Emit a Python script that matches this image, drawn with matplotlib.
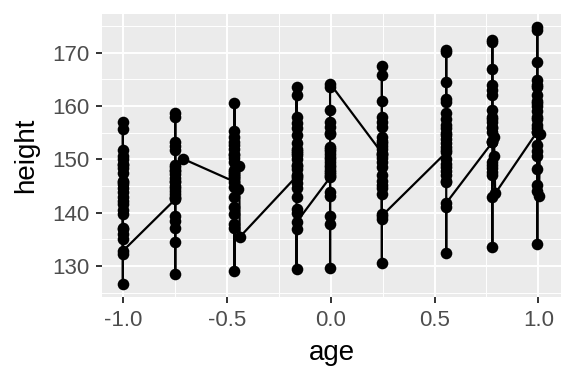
import numpy as np
import matplotlib
matplotlib.use("Agg")
import matplotlib.pyplot as plt
from matplotlib.ticker import FixedLocator

plt.rcParams["font.family"] = ["Liberation Sans", "DejaVu Sans"]

# heights per measurement occasion; ages mostly shared, a few subjects differ slightly
h1 = [140.5, 136.9, 150.0, 155.7, 145.8, 146.0, 142.2, 126.6, 151.7, 144.6, 157.0, 143.8, 135.1,
      149.2, 141.6, 147.5, 139.8, 148.3, 137.2, 143.0, 150.6, 136.0, 145.3, 148.9, 132.3, 132.8]
a1 = [-1.0] * 26

h2 = [142.5, 139.4, 148.0, 158.6, 146.5, 147.2, 144.0, 128.4, 153.2, 145.8, 157.9, 143.5, 134.4,
      148.6, 142.8, 151.7, 138.5, 147.8, 137.2, 145.0, 152.5, 146.0, 143.0, 144.6, 149.0, 150.1]
a2 = [-0.7479] * 25 + [-0.711]

h3 = [145.8, 147.7, 143.0, 152.0, 160.6, 150.3, 149.5, 146.5, 129.1, 155.4, 148.0, 154.2, 146.8,
      137.8, 151.0, 144.8, 153.3, 141.0, 150.8, 139.7, 147.2, 137.2, 152.6, 144.4, 148.8, 135.4]
a3 = [-0.463] * 23 + [-0.447, -0.44, -0.438]

h4 = [146.8, 147.1, 142.9, 154.5, 163.6, 151.2, 150.0, 148.2, 129.4, 157.9, 149.0, 162.0, 145.5,
      136.9, 153.0, 140.7, 155.8, 140.0, 152.0, 144.7, 156.8, 148.8, 150.8, 146.5, 151.6, 138.2]
a4 = [-0.1643] * 26

h5 = [146.6, 147.7, 143.2, 155.0, 159.2, 150.5, 151.5, 148.5, 129.7, 157.0, 149.5, 163.6, 146.8,
      137.9, 152.3, 143.8, 156.0, 139.4, 150.0, 148.0, 154.8, 152.0, 149.0, 151.0, 147.2, 164.2]
a5 = [-0.0027] * 26

h6 = [151.2, 150.2, 144.6, 157.0, 167.5, 153.5, 152.5, 150.8, 130.6, 160.9, 151.0, 165.8, 149.5,
      139.7, 154.2, 146.0, 157.9, 143.5, 153.0, 147.0, 156.0, 148.5, 145.2, 152.0, 138.8, 139.4]
a6 = [0.2466] * 26

h7 = [151.3, 151.7, 147.0, 158.6, 170.6, 155.0, 156.5, 153.0, 132.5, 161.4, 153.8, 170.2, 150.0,
      141.0, 157.5, 146.0, 164.5, 145.7, 155.8, 148.5, 160.8, 152.4, 149.2, 154.5, 147.8, 141.8]
a7 = [0.5562] * 26

h8 = [153.2, 153.3, 149.5, 159.2, 172.4, 156.0, 157.0, 155.1, 133.5, 163.9, 157.5, 172.0, 153.5,
      142.9, 162.0, 147.6, 167.0, 148.3, 158.0, 149.0, 163.0, 155.8, 147.0, 154.2, 150.7, 143.6]
a8 = [0.7781] * 23 + [0.786, 0.788, 0.792]

h9 = [155.2, 155.8, 150.7, 162.0, 174.9, 157.5, 159.0, 155.1, 134.2, 164.8, 160.0, 174.3, 152.6,
      144.1, 163.5, 148.2, 168.3, 145.1, 161.0, 151.5, 164.0, 158.0, 156.5, 160.5, 143.2, 154.8]
a9 = [0.9945] * 24 + [1.003, 1.008]

x_ticks = [-1.0, -0.5, 0.0, 0.5, 1.0]
x_labels = ["-1.0", "-0.5", "0.0", "0.5", "1.0"]
y_ticks = [130, 140, 150, 160, 170]

age = np.array(a1 + a2 + a3 + a4 + a5 + a6 + a7 + a8 + a9)
height = np.array(h1 + h2 + h3 + h4 + h5 + h6 + h7 + h8 + h9)

# geom_line connects points in order of x (stable for ties)
order = np.argsort(age, kind="stable")

fig = plt.figure(figsize=(5.76, 3.84), dpi=100)
ax = fig.add_axes([0.177, 0.227, 0.797, 0.737])
ax.set_facecolor("#EBEBEB")

ax.plot(age[order], height[order], color="black", lw=1.6, zorder=3)
ax.scatter(age, height, s=70, color="black", zorder=4, linewidths=0)

ax.set_xlim(-1.1007, 1.1087)
ax.set_ylim(124.2, 177.3)
ax.set_xticks(x_ticks)
ax.set_xticklabels(x_labels)
ax.set_yticks(y_ticks)
ax.xaxis.set_minor_locator(FixedLocator([-0.75, -0.25, 0.25, 0.75]))
ax.yaxis.set_minor_locator(FixedLocator([125, 135, 145, 155, 165, 175]))
ax.grid(which="major", color="white", lw=1.4)
ax.grid(which="minor", color="white", lw=0.7)
ax.set_axisbelow(True)
for s in ax.spines.values():
    s.set_visible(False)

ax.tick_params(which="major", length=4.2, width=1.4, color="#333333", labelsize=16,
               labelcolor="#4D4D4D", pad=5)
ax.tick_params(which="minor", length=0)
ax.set_xlabel("age", fontsize=20, labelpad=7)
ax.set_ylabel("height", fontsize=20, labelpad=9)

fig.savefig("out.png", dpi=100)
